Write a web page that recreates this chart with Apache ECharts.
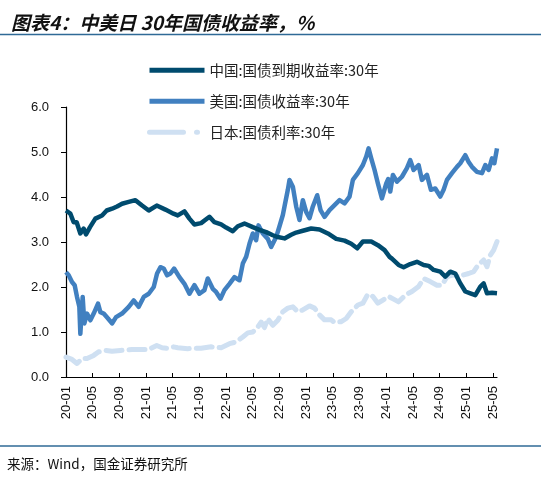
<!DOCTYPE html>
<html>
<head>
<meta charset="utf-8">
<script src="https://cdn.jsdelivr.net/npm/echarts@6/dist/echarts.min.js"></script>
<style>
html,body{margin:0;padding:0;background:#fff;}
#c{width:541px;height:478px;}
</style>
</head>
<body>
<div id="c"></div>
<script>
// x = months since 2020-01
const seriesNames = ['中国:国债到期收益率:30年', '美国:国债收益率:30年', '日本:国债利率:30年'];
const tickMonths = [0,4,8,12,16,20,24,28,32,36,40,44,48,52,56,60,64];

const cnMonths = [0,0.65,1.15,1.6,2.15,2.65,3.0,3.6,4.4,5.4,6.1,6.9,7.65,8.4,9.4,10.4,11.4,12.4,13.6,14.9,16.1,16.75,17.75,18.5,19.25,20.25,21.5,22.25,23.25,24,25,25.75,26.75,28,29,30,31,31.75,32.75,33.75,34.5,35.5,36.75,38,39.25,40.5,41.75,42.75,43.65,44.5,45.75,46.75,47.75,48.5,48.85,49.85,50.6,51.6,52.6,53.6,54.35,55.1,56.1,56.85,57.6,58.35,59.1,59.85,60.6,61.35,62.1,62.6,63.1,63.85,64.6];
const cnValues = [3.70,3.63,3.44,3.44,3.19,3.30,3.17,3.33,3.52,3.59,3.70,3.74,3.79,3.85,3.89,3.93,3.81,3.70,3.81,3.72,3.63,3.59,3.68,3.52,3.39,3.42,3.56,3.44,3.39,3.32,3.24,3.35,3.41,3.33,3.27,3.22,3.15,3.11,3.08,3.16,3.21,3.25,3.30,3.28,3.19,3.07,3.03,2.96,2.86,3.01,3.01,2.93,2.82,2.67,2.63,2.49,2.44,2.51,2.56,2.49,2.47,2.38,2.34,2.23,2.34,2.30,2.08,1.90,1.86,1.82,2.01,2.08,1.86,1.87,1.86];

const usMonths = [0,0.4,0.9,1.3,1.65,2.0,2.15,2.5,2.75,3.15,3.65,4.15,4.8,5.15,5.65,6.3,6.9,7.5,8.4,9.4,10.15,10.9,11.65,12.4,13.15,13.65,14.15,14.65,15.15,15.65,16.2,17,17.75,18.5,19.25,20,20.75,21.25,22,22.5,23.15,23.75,24.5,25.25,26,26.5,27,27.5,28,28.5,28.85,29.5,30.25,30.75,31.5,32,32.5,32.75,33.25,33.5,34,34.5,35,35.5,36,36.5,37,37.65,38.15,38.75,39.5,40.25,41,41.75,42.5,43,43.75,44.5,45,45.35,45.75,46.25,46.75,47.35,48,48.3,48.6,49,49.6,50.35,51.1,51.6,52.1,52.85,53.35,54.1,54.7,55.35,56.1,56.6,57.1,57.85,58.6,59.1,59.85,60.35,60.85,61.6,62.35,62.85,63.35,63.85,64.2,64.6];
const usValues = [2.33,2.26,2.11,2.04,1.78,1.56,0.96,1.78,1.19,1.41,1.26,1.41,1.63,1.44,1.41,1.30,1.19,1.33,1.41,1.56,1.70,1.56,1.78,1.85,2.00,2.30,2.44,2.41,2.26,2.30,2.41,2.22,2.07,1.85,2.04,1.85,1.93,2.19,1.96,1.89,1.74,1.93,2.07,2.22,2.15,2.52,2.67,2.96,3.19,3.04,3.37,3.19,3.07,2.89,3.11,3.35,3.60,3.79,4.16,4.38,4.23,3.79,3.49,3.93,3.67,3.53,3.79,4.04,3.71,3.56,3.71,3.82,3.93,3.86,4.01,4.38,4.53,4.71,4.90,5.08,4.86,4.60,4.30,3.97,4.30,4.40,4.12,4.49,4.34,4.45,4.64,4.82,4.60,4.71,4.38,4.49,4.16,4.19,4.01,4.16,4.38,4.53,4.67,4.75,4.93,4.78,4.67,4.56,4.53,4.71,4.60,4.86,4.75,5.08];

const jpMonths = [0,0.9,1.65,2.4,3.15,4.15,4.9,5.9,6.9,8.15,9.9,11.4,12.4,13.6,14.4,15.15,16.1,16.75,18.25,20.25,21.75,23.25,24.5,25.5,26.5,27.25,28,28.75,29.25,29.75,30.25,31,31.75,32.5,33.25,34,34.75,35.5,36.5,37.25,38,38.75,39.75,40.25,41.25,42,42.75,43.75,44.5,45.25,46,46.75,47.5,48.35,49.1,49.85,50.85,51.85,52.85,53.6,54.6,55.6,56.35,57.1,58.1,58.85,59.6,60.35,61.1,61.6,62.1,62.6,63.1,63.6,64.1,64.6];
const jpValues = [0.44,0.39,0.30,0.41,0.41,0.48,0.56,0.59,0.57,0.59,0.61,0.61,0.61,0.70,0.65,0.64,0.67,0.65,0.63,0.64,0.67,0.65,0.74,0.78,0.89,0.98,1.00,1.11,1.22,1.10,1.30,1.15,1.26,1.45,1.53,1.56,1.45,1.49,1.58,1.53,1.38,1.27,1.27,1.21,1.23,1.30,1.45,1.60,1.64,1.84,1.79,1.64,1.71,1.79,1.73,1.67,1.82,1.90,2.01,2.19,2.12,2.04,2.04,2.23,2.27,2.23,2.27,2.30,2.34,2.45,2.53,2.60,2.45,2.71,2.82,3.01];

function pairs(xs, ys){ return xs.map((x,i)=>[x, ys[i]]); }
function monthLabel(m){
  const y = 20 + Math.floor(m/12);
  const mo = (m % 12) + 1;
  return y + '-' + (mo < 10 ? '0' + mo : '' + mo);
}

const chart = echarts.init(document.getElementById('c'), null, {renderer:'canvas'});
const axisFont = 'Liberation Sans, Arial, sans-serif';
const cjkFont = '"Noto Sans CJK SC", sans-serif';

chart.setOption({
  animation:false,
  backgroundColor:'#fff',
  title:{
    text:'图表4：中美日 30年国债收益率，%',
    left:6, top:8,
    textStyle:{fontFamily:cjkFont, fontSize:19, fontWeight:'bold', fontStyle:'italic', color:'#111'}
  },
  graphic:[
    {type:'line', shape:{x1:0,y1:34.5,x2:541,y2:34.5}, style:{stroke:'#2f6a96', lineWidth:1.5}},
    {type:'line', shape:{x1:0,y1:446,x2:541,y2:446}, style:{stroke:'#2f6a96', lineWidth:1.5}},
    {type:'text', left:7, top:457, style:{text:'来源：Wind，国金证券研究所', font:'13.5px "Noto Sans CJK SC", sans-serif', fill:'#111'}}
  ],
  legend:{
    orient:'vertical',
    left:142, top:58,
    itemWidth:55, itemHeight:14, itemGap:16.5,
    itemStyle:{color:'rgba(0,0,0,0)', borderWidth:0, opacity:0},
    textStyle:{fontFamily:cjkFont, fontSize:14.5, color:'#222'},
    data:[
      {name:seriesNames[0], lineStyle:{width:5}},
      {name:seriesNames[1], lineStyle:{width:5}},
      {name:seriesNames[2], lineStyle:{width:5, type:[34,13,1,20], cap:'round'}}
    ]
  },
  grid:{left:66, right:44, top:107, bottom:101},
  xAxis:{
    type:'value', min:0, max:64.6,
    axisLine:{show:true, lineStyle:{color:'#000', width:1.2}},
    axisTick:{show:true, inside:true, length:4, lineStyle:{color:'#000'}, customValues:tickMonths},
    axisLabel:{rotate:90, margin:9, fontFamily:axisFont, fontSize:13, color:'#111', customValues:tickMonths, formatter:v=>monthLabel(Math.round(v))},
    splitLine:{show:false}
  },
  yAxis:{
    type:'value', min:0, max:6, interval:1,
    axisLine:{show:true, lineStyle:{color:'#000', width:1.2}},
    axisTick:{show:true, inside:false, length:5, lineStyle:{color:'#000'}},
    axisLabel:{margin:17, fontFamily:axisFont, fontSize:13, color:'#111', formatter:v=>v.toFixed(1)},
    splitLine:{show:false}
  },
  series:[
    {name:seriesNames[0], type:'line', z:4, showSymbol:false, symbol:'none', data:pairs(cnMonths, cnValues),
     lineStyle:{color:'#004b6e', width:4.5, join:'round'}, itemStyle:{color:'#004b6e'}},
    {name:seriesNames[1], type:'line', z:3, showSymbol:false, symbol:'none', data:pairs(usMonths, usValues),
     lineStyle:{color:'#4180c0', width:4.5, join:'round'}, itemStyle:{color:'#4180c0'}},
    {name:seriesNames[2], type:'line', z:2, showSymbol:false, symbol:'none', data:pairs(jpMonths, jpValues),
     lineStyle:{color:'#cfe0f2', width:5, type:[16,7], cap:'round', join:'round'}, itemStyle:{color:'#cfe0f2'}}
  ]
});
</script>
</body>
</html>
